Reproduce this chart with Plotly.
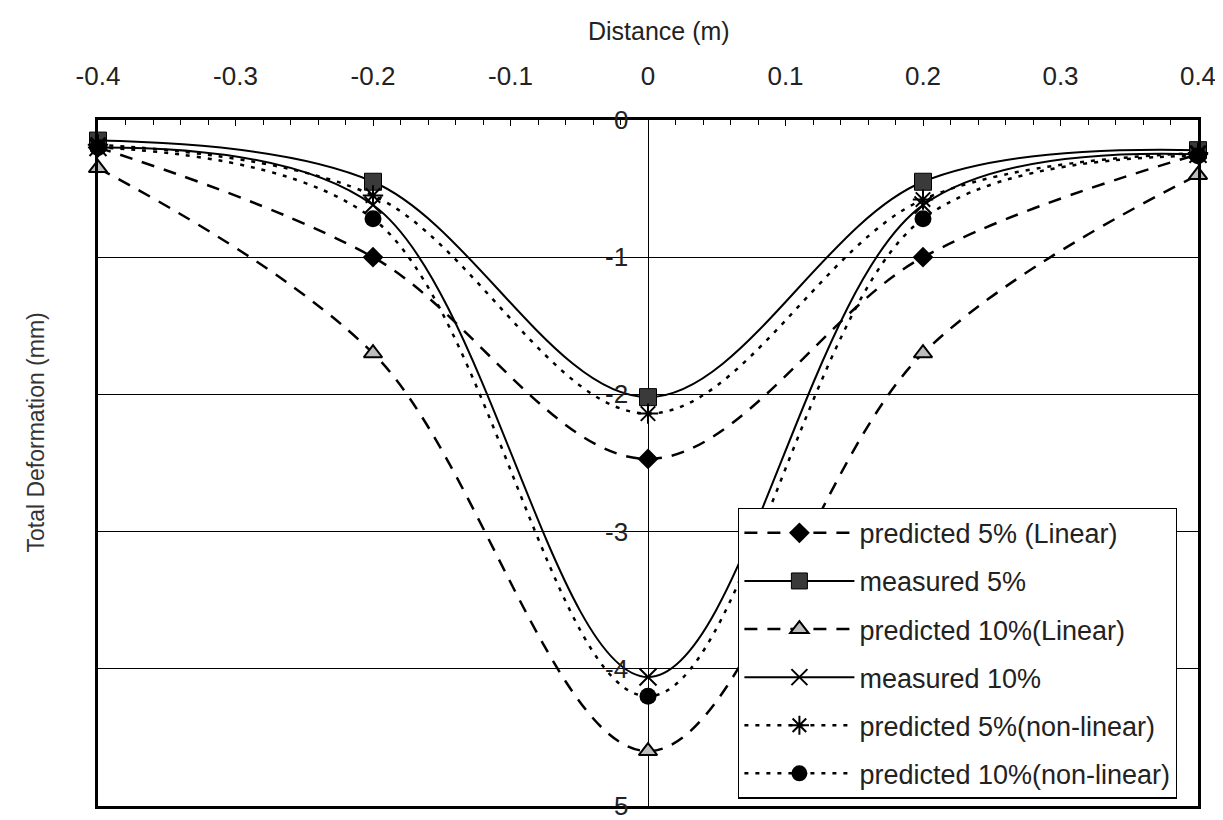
import plotly.graph_objects as go

distance = [-0.4, -0.2, 0.0, 0.2, 0.4]
pred5_linear = [0.20, 1.00, 2.47, 1.00, 0.25]
meas5 = [0.15, 0.45, 2.02, 0.45, 0.22]
pred10_linear = [0.35, 1.70, 4.60, 1.70, 0.40]
meas10 = [0.20, 0.62, 4.06, 0.62, 0.25]
pred5_nonlinear = [0.18, 0.55, 2.14, 0.58, 0.24]
pred10_nonlinear = [0.20, 0.72, 4.20, 0.72, 0.26]

x_ticks = [-0.4, -0.3, -0.2, -0.1, 0.0, 0.1, 0.2, 0.3, 0.4]
x_ticktext = ["-0.4", "-0.3", "-0.2", "-0.1", "0", "0.1", "0.2", "0.3", "0.4"]
y_ticks = [0, 1, 2, 3, 4, 5]
y_ticktext = ["0", "-1", "-2", "-3", "-4", "5"]

FONT = "Liberation Sans, Arial, sans-serif"

series = [
    ("predicted 5% (Linear)", pred5_linear, "13px,10px", 2.5,
     dict(symbol="diamond", size=16, color="black")),
    ("measured 5%", meas5, "solid", 2,
     dict(symbol="square", size=17, color="#3a3a3a", line=dict(color="black", width=1))),
    ("predicted 10%(Linear)", pred10_linear, "13px,10px", 2.5,
     dict(symbol="triangle-up", size=16, color="#bdbdbd", line=dict(color="black", width=2))),
    ("measured 10%", meas10, "solid", 2,
     dict(symbol="x-thin", size=17, color="black", line=dict(color="black", width=2))),
    ("predicted 5%(non-linear)", pred5_nonlinear, "4px,7px", 2.5,
     dict(symbol="asterisk-open", size=17, color="black", line=dict(color="black", width=2))),
    ("predicted 10%(non-linear)", pred10_nonlinear, "4px,7px", 2.5,
     dict(symbol="circle", size=17, color="black")),
]

fig = go.Figure()
for i, (name, vals, dash, w, mk) in enumerate(series):
    fig.add_trace(go.Scatter(
        x=distance, y=vals, name=name, mode="lines+markers",
        line=dict(color="black", width=w, dash=dash, shape="spline", smoothing=1.0),
        marker=mk, cliponaxis=False, legendgroup=f"g{i}",
    ))

annotations = []
for v, t in zip(y_ticks, y_ticktext):
    annotations.append(dict(x=0, y=v, xref="x", yref="y", text=t, showarrow=False,
                            xanchor="right", yanchor="middle", xshift=-18,
                            font=dict(family=FONT, size=26, color="#222")))
annotations.append(dict(x=0.51, y=1.13, xref="paper", yref="paper", text="Distance (m)",
                        showarrow=False, xanchor="center", yanchor="middle",
                        font=dict(family=FONT, size=25, color="#222")))
annotations.append(dict(x=-0.056, y=0.545, xref="paper", yref="paper",
                        text="Total Deformation (mm)", textangle=-90, showarrow=False,
                        xanchor="center", yanchor="middle",
                        font=dict(family=FONT, size=23, color="#333")))

fig.update_layout(
    width=1223, height=820,
    margin=dict(l=90, r=33, t=112, b=22),
    plot_bgcolor="white", paper_bgcolor="white",
    font=dict(family=FONT, size=19, color="#222"),
    showlegend=True,
    legend=dict(x=0.582, y=0.435, xanchor="left", yanchor="top",
                bgcolor="white", bordercolor="black", borderwidth=1.2,
                font=dict(family=FONT, size=27, color="#222"),
                tracegroupgap=10, itemwidth=110),
    annotations=annotations,
    xaxis=dict(side="top", range=[-0.4, 0.4], tickvals=x_ticks, ticktext=x_ticktext,
               ticks="inside", ticklen=6, tickcolor="black",
               minor=dict(dtick=0.02, ticks="inside", ticklen=5, tickcolor="black"),
               showgrid=False, zeroline=True, zerolinecolor="black", zerolinewidth=1.2,
               showline=True, linecolor="black", linewidth=2.5, mirror=True,
               tickfont=dict(family=FONT, size=26, color="#222"), ticklabelstandoff=22),
    yaxis=dict(range=[5, 0], tickvals=y_ticks, showticklabels=False, ticks="",
               showgrid=True, gridcolor="black", gridwidth=1,
               zeroline=False, showline=True, linecolor="black", linewidth=2.5, mirror=True),
)

fig.write_html("out.html")
